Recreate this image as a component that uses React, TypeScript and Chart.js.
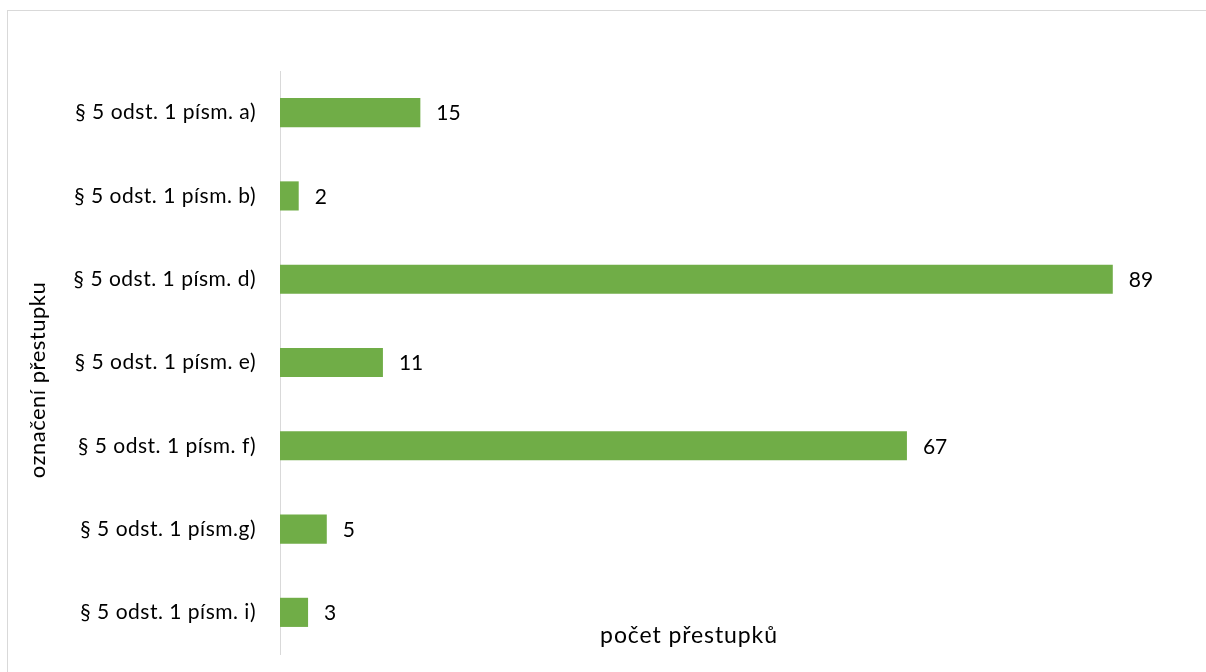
import React, { useEffect, useRef } from "react";
import { Chart, registerables } from "chart.js";

Chart.register(...registerables);

const categories = [
  "§ 5 odst. 1 písm. a)",
  "§ 5 odst. 1 písm. b)",
  "§ 5 odst. 1 písm. d)",
  "§ 5 odst. 1 písm. e)",
  "§ 5 odst. 1 písm. f)",
  "§ 5 odst. 1 písm.g)",
  "§ 5 odst. 1 písm. i)",
];
const values = [15, 2, 89, 11, 67, 5, 3];
const xTitle = "počet přestupků";
const yTitle = "označení přestupku";

const FONT = "Lato, 'Open Sans', sans-serif";
const TEXT = "#000000";
const GREEN = "#70AD47";

export default function App() {
  const ref = useRef<HTMLCanvasElement | null>(null);

  useEffect(() => {
    const canvas = ref.current;
    if (!canvas) return;

    const decor = {
      id: "decor",
      beforeDraw(chart: any) {
        const ctx = chart.ctx;
        ctx.save();
        ctx.fillStyle = "#ffffff";
        ctx.fillRect(0, 0, chart.width, chart.height);
        ctx.strokeStyle = "#d9d9d9";
        ctx.lineWidth = 1;
        ctx.strokeRect(7.5, 10.5, 1200, 700);
        ctx.restore();
        ctx.letterSpacing = "0.5px";
      },
      afterDatasetsDraw(chart: any) {
        const ctx = chart.ctx;
        ctx.save();
        ctx.fillStyle = TEXT;
        ctx.font = `21px ${FONT}`;
        ctx.letterSpacing = "0px";
        ctx.textBaseline = "middle";
        ctx.textAlign = "left";
        const meta = chart.getDatasetMeta(0);
        meta.data.forEach((bar: any, i: number) => {
          ctx.fillText(String(values[i]), bar.x + 16, bar.y + 1);
        });
        // x axis title
        ctx.textAlign = "center";
        ctx.font = `23px ${FONT}`;
        ctx.letterSpacing = "0.9px";
        ctx.fillText(xTitle, 689, 636);
        // y axis title
        ctx.font = `22px ${FONT}`;
        ctx.letterSpacing = "0.5px";
        ctx.translate(38, 380);
        ctx.rotate(-Math.PI / 2);
        ctx.fillText(yTitle, 0, 0);
        ctx.restore();
      },
    };

    const chart = new Chart(canvas, {
      type: "bar",
      data: {
        labels: categories,
        datasets: [
          {
            data: values,
            backgroundColor: GREEN,
            borderWidth: 0,
            categoryPercentage: 1,
            barPercentage: 0.35,
          },
        ],
      },
      options: {
        indexAxis: "y",
        animation: false,
        responsive: false,
        maintainAspectRatio: false,
        layout: { padding: { left: 0, right: 9, top: 71, bottom: 18 } },
        plugins: {
          legend: { display: false },
          tooltip: { enabled: false },
          title: { display: false },
        },
        scales: {
          x: {
            display: false,
            min: 0,
            max: 98,
            afterFit(scale: any) {
              scale.height = 0;
            },
          },
          y: {
            grid: { display: false, drawTicks: false },
            border: { display: true, color: "#d9d9d9", width: 1 },
            ticks: {
              color: TEXT,
              font: { family: FONT, size: 21 },
              padding: 24,
            },
            afterFit(scale: any) {
              scale.width = 280;
              scale.paddingTop = 0;
              scale.paddingBottom = 0;
            },
          },
        },
      },
      plugins: [decor],
    });

    return () => chart.destroy();
  }, []);

  return (
    <div style={{ position: "fixed", left: 0, top: 0, width: 1206, height: 672, background: "#fff" }}>
      <canvas ref={ref} width={1206} height={672} style={{ width: 1206, height: 672, display: "block" }} />
    </div>
  );
}
